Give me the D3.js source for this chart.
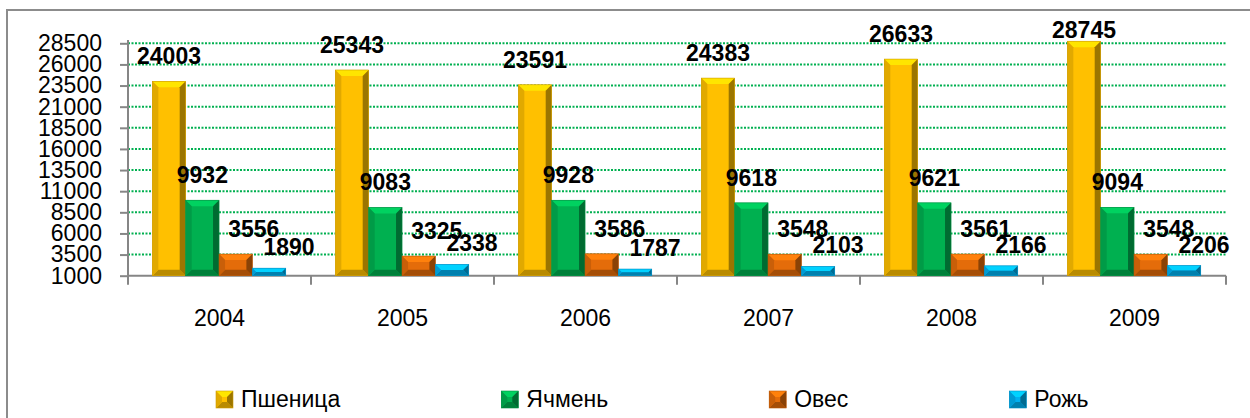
<!DOCTYPE html>
<html>
<head>
<meta charset="utf-8">
<script src="https://cdn.jsdelivr.net/npm/d3@7/dist/d3.min.js"></script>
<style>
  body { margin: 0; background: #fff; }
  svg { display: block; font-family: "Liberation Sans", Arial, sans-serif; }
</style>
</head>
<body>
<svg id="chart" width="1250" height="418"></svg>
<script>
    var years = ["2004", "2005", "2006", "2007", "2008", "2009"];
    var seriesNames = ["Пшеница", "Ячмень", "Овес", "Рожь"];
    var wheat = [24003, 25343, 23591, 24383, 26633, 28745];
    var barley = [9932, 9083, 9928, 9618, 9621, 9094];
    var oats = [3556, 3325, 3586, 3548, 3561, 3548];
    var rye = [1890, 2338, 1787, 2103, 2166, 2206];
    var yTicks = [1000, 3500, 6000, 8500, 11000, 13500, 16000, 18500, 21000, 23500, 26000, 28500];

    var seriesValues = [wheat, barley, oats, rye];
    var seriesColors = ["#ffc000", "#00b050", "#e46c0a", "#00b0f0"];
    // label nudges per series (Excel pushes the small ones aside)
    var labelDx = [0, 0, 18, 20];
    var labelDy = [-17, -17, -17, -13];

    var svg = d3.select("#chart");
    var plotLeft = 128, plotRight = 1226, plotBottom = 275.7, plotTop = 43.3;

    // chart frame
    svg.append("path")
        .attr("d", "M7,418V10H1250")
        .attr("fill", "none")
        .attr("stroke", "#8c8c8c")
        .attr("stroke-width", 2);

    var y = d3.scaleLinear().domain([1000, 28500]).range([plotBottom, plotTop]);
    var x0 = d3.scaleBand().domain(years).range([plotLeft, plotRight]).padding(0);
    var x1 = d3.scaleBand().domain(seriesNames)
        .range([x0.bandwidth() * 0.133, x0.bandwidth() * 0.862]).padding(0);

    // gridlines
    svg.append("g").selectAll("line")
        .data(yTicks.slice(1))
        .enter().append("line")
        .attr("x1", plotLeft).attr("x2", plotRight)
        .attr("y1", d => y(d)).attr("y2", d => y(d))
        .attr("stroke", "#00b050")
        .attr("stroke-width", 2)
        .attr("stroke-dasharray", "2,1.5");

    // y axis
    var yAxis = svg.append("g")
        .attr("transform", "translate(" + plotLeft + ",0)")
        .call(d3.axisLeft(y).tickValues(yTicks).tickSize(8).tickSizeOuter(0).tickPadding(18).tickFormat(d3.format("d")));
    yAxis.select(".domain").attr("d", "M0,40V" + plotBottom).attr("stroke", "#868686").attr("stroke-width", 2);
    yAxis.selectAll(".tick line").attr("stroke", "#868686").attr("stroke-width", 2);
    yAxis.selectAll(".tick text").attr("font-size", 23).attr("fill", "#000")
        .attr("font-family", "Liberation Sans, Arial, sans-serif");

    // bevelled bar, like Excel's "angle" bevel
    function bevel(g, x, yy, w, h, color) {
        var c = d3.color(color);
        var b = Math.min(6, w / 2, h / 2);
        var pts = function (a) { return a.map(p => p.join(",")).join(" "); };
        g.append("rect").attr("x", x).attr("y", yy).attr("width", w).attr("height", h).attr("fill", c.formatHex());
        g.append("polygon").attr("points", pts([[x, yy], [x + w, yy], [x + w - b, yy + b], [x + b, yy + b]]))
            .attr("fill", c.brighter(0.5).formatHex());
        g.append("polygon").attr("points", pts([[x, yy + h], [x + w, yy + h], [x + w - b, yy + h - b], [x + b, yy + h - b]]))
            .attr("fill", c.darker(0.9).formatHex());
        g.append("polygon").attr("points", pts([[x, yy], [x + b, yy + b], [x + b, yy + h - b], [x, yy + h]]))
            .attr("fill", c.darker(0.35).formatHex());
        g.append("polygon").attr("points", pts([[x + w, yy], [x + w - b, yy + b], [x + w - b, yy + h - b], [x + w, yy + h]]))
            .attr("fill", c.darker(1.4).formatHex());
        g.append("rect").attr("x", x).attr("y", yy).attr("width", w).attr("height", h)
            .attr("fill", "none").attr("stroke", c.darker(0.6).formatHex()).attr("stroke-width", 0.6);
    }

    // x axis line + category separators
    var xAxisG = svg.append("g");
    xAxisG.append("line")
        .attr("x1", plotLeft).attr("x2", plotRight).attr("y1", plotBottom).attr("y2", plotBottom)
        .attr("stroke", "#868686").attr("stroke-width", 2);
    xAxisG.selectAll("line.sep")
        .data(years.map(d => x0(d)).concat([plotRight]))
        .enter().append("line")
        .attr("class", "sep")
        .attr("x1", d => d).attr("x2", d => d)
        .attr("y1", plotBottom).attr("y2", plotBottom + 9)
        .attr("stroke", "#868686").attr("stroke-width", 2);

    var xAxis = svg.append("g")
        .attr("transform", "translate(0," + plotBottom + ")")
        .call(d3.axisBottom(x0).tickSize(0).tickPadding(34));
    xAxis.select(".domain").remove();
    xAxis.selectAll(".tick text").attr("font-size", 23).attr("fill", "#000")
        .attr("font-family", "Liberation Sans, Arial, sans-serif");

    // bars
    var barsG = svg.append("g");
    seriesNames.forEach(function (name, s) {
        years.forEach(function (yr, i) {
            var v = seriesValues[s][i];
            var bx = x0(yr) + x1(name);
            bevel(barsG, bx, y(v), x1.bandwidth(), y(1000) - y(v), seriesColors[s]);
        });
    });

    // data labels
    var labelsG = svg.append("g");
    seriesNames.forEach(function (name, s) {
        labelsG.selectAll("text.s" + s)
            .data(years)
            .enter().append("text")
            .attr("class", "s" + s)
            .attr("x", (d) => x0(d) + x1(name) + x1.bandwidth() / 2 + labelDx[s])
            .attr("y", (d, i) => Math.max(38, y(seriesValues[s][i]) + labelDy[s]))
            .attr("text-anchor", "middle")
            .attr("font-size", 23)
            .attr("font-weight", "bold")
            .attr("fill", "#000")
            .text((d, i) => seriesValues[s][i]);
    });

    // legend
    var legend = svg.append("g");
    var lx = 216;
    seriesNames.forEach(function (name, s) {
        var item = legend.append("g");
        bevel(item, lx, 391, 17, 17, seriesColors[s]);
        var t = item.append("text")
            .attr("x", lx + 25).attr("y", 407)
            .attr("font-size", 23)
            .attr("fill", "#000")
            .text(name);
        lx += 25 + t.node().getComputedTextLength() + 161;
    });
</script>
</body>
</html>
